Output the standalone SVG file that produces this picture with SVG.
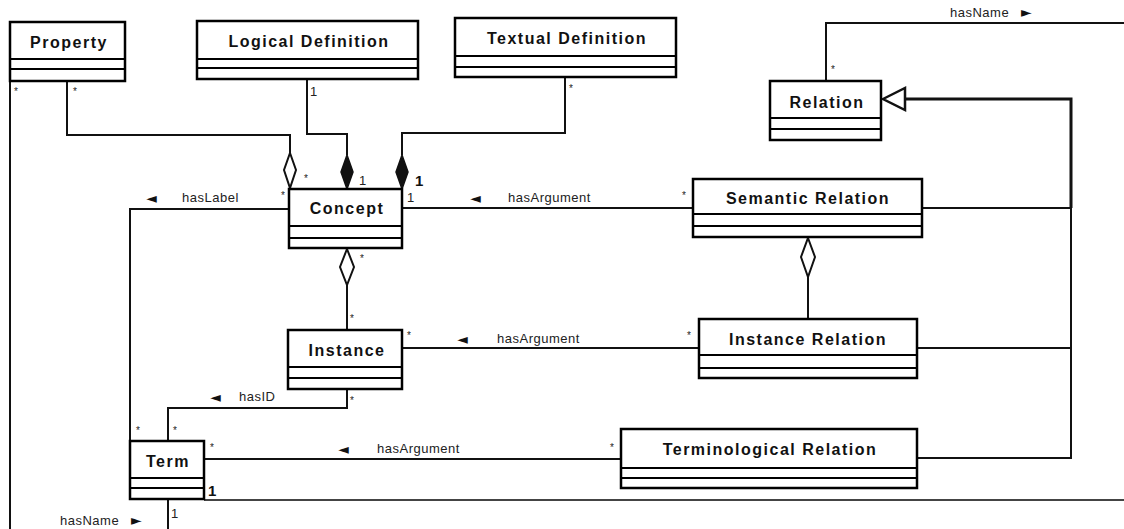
<svg xmlns="http://www.w3.org/2000/svg" width="1124" height="529" viewBox="0 0 1124 529">
<style>
.box{fill:#fff;stroke:#000;stroke-width:2.5}
.div{stroke:#000;stroke-width:2}
.nm{font-family:"Liberation Sans",Arial,sans-serif;font-weight:bold;font-size:16px;letter-spacing:1.5px;text-anchor:middle;fill:#111}
.lbl{font-family:"Liberation Sans",Arial,sans-serif;font-size:13px;letter-spacing:0.5px;fill:#222}
.m{font-family:"Liberation Sans",Arial,sans-serif;font-size:10px;fill:#222}
.one{font-family:"Liberation Sans",Arial,sans-serif;font-size:13px;fill:#222}
.oneb{font-family:"Liberation Sans",Arial,sans-serif;font-size:15px;font-weight:bold;fill:#111}
.ar{font-family:"DejaVu Sans",sans-serif;font-size:14px;fill:#111}
.c{fill:none;stroke:#111;stroke-width:2}
.ck{fill:none;stroke:#111;stroke-width:3}
</style>
<rect width="1124" height="529" fill="#fff"/>
<g id="connectors">
<path class="c" d="M10,81 V529"/>
<path class="c" d="M67,81 V135 H290 V153"/>
<path class="c" d="M307,79 V134 H347 V155"/>
<path class="c" d="M565,77 V133 H402 V155"/>
<path class="c" d="M289,209 H130 V441"/>
<path class="c" d="M402,208 H693"/>
<path class="c" d="M347,285 V330"/>
<path class="c" d="M402,348 H699"/>
<path class="c" d="M347,389 V408 H168 V441"/>
<path class="c" d="M204,459 H621"/>
<path class="c" d="M808,277 V319"/>
<path class="c" d="M922,208 H1071"/>
<path class="c" d="M917,348 H1071"/>
<path class="c" d="M917,458 H1071 V208"/>
<path class="ck" d="M1071,208 V99 H905"/>
<path class="c" d="M826,81 V23 H1124"/>
<path d="M204,500 H1124" stroke="#444" stroke-width="2"/>
<path class="c" d="M168,499 V529"/>
<polygon points="290,153 296,170 290,188 284,170" fill="#fff" stroke="#111" stroke-width="2"/>
<polygon points="347,155 353,172 347,189 341,172" fill="#111" stroke="#111" stroke-width="1.5"/>
<polygon points="402,155 408,172 402,189 396,172" fill="#111" stroke="#111" stroke-width="1.5"/>
<polygon points="347,249 354,267 347,285 340,267" fill="#fff" stroke="#111" stroke-width="2"/>
<polygon points="808,238 815,257 808,277 801,257" fill="#fff" stroke="#111" stroke-width="2"/>
<polygon points="883,99 905,88 905,110" fill="#fff" stroke="#111" stroke-width="2.5"/>
</g>
<g id="labels">
<text class="m" x="14" y="95">*</text>
<text class="m" x="73" y="95">*</text>
<text class="one" x="310" y="96">1</text>
<text class="m" x="569" y="92">*</text>
<text class="m" x="304" y="182">*</text>
<text class="one" x="359" y="185">1</text>
<text class="oneb" x="415" y="186">1</text>
<text class="m" x="281" y="199">*</text>
<text class="ar" x="146" y="203">◄</text>
<text class="lbl" x="182" y="202">hasLabel</text>
<text class="one" x="407" y="202">1</text>
<text class="ar" x="470" y="203">◄</text>
<text class="lbl" x="508" y="202">hasArgument</text>
<text class="m" x="682" y="199">*</text>
<text class="m" x="360" y="262">*</text>
<text class="m" x="350" y="322">*</text>
<text class="m" x="407" y="339">*</text>
<text class="ar" x="457" y="344">◄</text>
<text class="lbl" x="497" y="343">hasArgument</text>
<text class="m" x="687" y="339">*</text>
<text class="ar" x="210" y="402">◄</text>
<text class="lbl" x="239" y="401">hasID</text>
<text class="m" x="350" y="404">*</text>
<text class="m" x="136" y="434">*</text>
<text class="m" x="173" y="434">*</text>
<text class="m" x="210" y="451">*</text>
<text class="ar" x="338" y="454">◄</text>
<text class="lbl" x="377" y="453">hasArgument</text>
<text class="m" x="610" y="451">*</text>
<text class="oneb" x="208" y="496">1</text>
<text class="one" x="171" y="518">1</text>
<text class="lbl" x="60" y="525">hasName</text>
<text class="ar" x="131" y="525">►</text>
<text class="lbl" x="950" y="17">hasName</text>
<text class="ar" x="1021" y="17">►</text>
<text class="m" x="831" y="73">*</text>
</g>
<g id="property">
<rect class="box" x="10" y="22" width="115" height="59"/>
<path class="div" d="M10,59 H125 M10,69 H125"/>
<text class="nm" x="69" y="48">Property</text>
</g>
<g id="logical-definition">
<rect class="box" x="197" y="21" width="221" height="58"/>
<path class="div" d="M197,59 H418 M197,68 H418"/>
<text class="nm" x="309" y="47">Logical Definition</text>
</g>
<g id="textual-definition">
<rect class="box" x="455" y="18" width="221" height="59"/>
<path class="div" d="M455,56 H676 M455,67 H676"/>
<text class="nm" x="567" y="44">Textual Definition</text>
</g>
<g id="relation">
<rect class="box" x="770" y="81" width="111" height="59"/>
<path class="div" d="M770,118 H881 M770,129 H881"/>
<text class="nm" x="827" y="108">Relation</text>
</g>
<g id="concept">
<rect class="box" x="289" y="189" width="113" height="59"/>
<path class="div" d="M289,226 H402 M289,238 H402"/>
<text class="nm" x="347" y="214">Concept</text>
</g>
<g id="semantic-relation">
<rect class="box" x="693" y="179" width="229" height="58"/>
<path class="div" d="M693,214 H922 M693,226 H922"/>
<text class="nm" x="808" y="204">Semantic Relation</text>
</g>
<g id="instance">
<rect class="box" x="288" y="330" width="114" height="59"/>
<path class="div" d="M288,367 H402 M288,378 H402"/>
<text class="nm" x="347" y="356">Instance</text>
</g>
<g id="instance-relation">
<rect class="box" x="699" y="319" width="218" height="59"/>
<path class="div" d="M699,355 H917 M699,368 H917"/>
<text class="nm" x="808" y="345">Instance Relation</text>
</g>
<g id="term">
<rect class="box" x="130" y="441" width="74" height="58"/>
<path class="div" d="M130,478 H204 M130,488 H204"/>
<text class="nm" x="168" y="467">Term</text>
</g>
<g id="terminological-relation">
<rect class="box" x="621" y="429" width="296" height="59"/>
<path class="div" d="M621,468 H917 M621,478 H917"/>
<text class="nm" x="770" y="455">Terminological Relation</text>
</g>
</svg>
